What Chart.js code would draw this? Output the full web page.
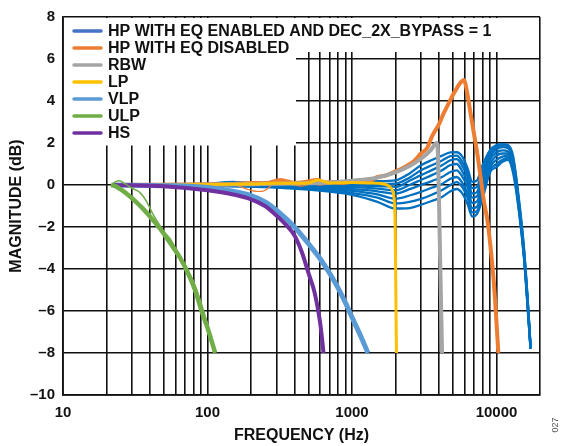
<!DOCTYPE html>
<html>
<head>
<meta charset="utf-8">
<script src="https://cdn.jsdelivr.net/npm/chart.js@4/dist/chart.umd.min.js"></script>
<style>
html,body{margin:0;padding:0;background:#fff;}
#wrap{width:569px;height:446px;position:relative;}
</style>
</head>
<body>
<div id="wrap"><canvas id="c" width="569" height="446"></canvas></div>
<script>
// ---- axis ticks ----
const xTickValues = [10,20,30,40,50,60,70,80,90,100,200,300,400,500,600,700,800,900,1000,2000,3000,4000,5000,6000,7000,8000,9000,10000,20000];
const xTickLabels = [10,100,1000,10000];
const yTickValues = [-10,-8,-6,-4,-2,0,2,4,6,8];

// ---- series names ----
const seriesNames = ['HP WITH EQ ENABLED AND DEC_2X_BYPASS = 1','HP WITH EQ DISABLED','RBW','LP','VLP','ULP','HS'];

// ---- HP with EQ enabled (bundle of curves) ----
const hpEqFreq = [22,60,100,150,200,300,500,700,1000,1500,2000,2500,3000,3600,4200,4800,5300,5800,6300,6800,7300,8000,9000,10000,11000,12000,13000,14200,15500,16400,17200];
const hpEq1 = [0,0.02,0.05,0.15,0.1,0.12,0.1,0.12,0.14,0.18,0.22,0.55,0.94,1.2,1.4,1.55,1.56,1.35,0.8,0.15,0.2,0.94,1.65,1.9,1.95,1.9,1.4,-0.5,-3.0,-5.3,-7.6];
const hpEq2 = [0,0.01,0.03,0.1,0.08,0.05,0.05,0.05,0.05,0.05,0.06,0.35,0.7,0.95,1.17,1.38,1.4,1.1,0.6,-0.15,-0.1,0.7,1.5,1.8,1.9,1.85,1.3,-0.6,-3.1,-5.4,-7.7];
const hpEq3 = [0,0,0.02,0.05,0.05,0,0,-0.02,-0.03,-0.05,-0.09,0.2,0.47,0.72,0.94,1.18,1.23,0.9,0.4,-0.4,-0.35,0.47,1.35,1.7,1.8,1.75,1.2,-0.7,-3.2,-5.5,-7.7];
const hpEq4 = [0,0,0,0.02,0,-0.03,-0.05,-0.08,-0.1,-0.17,-0.25,0,0.24,0.48,0.7,0.95,1.0,0.65,0.15,-0.6,-0.55,0.24,1.2,1.55,1.65,1.6,1.1,-0.8,-3.3,-5.5,-7.7];
const hpEq5 = [0,0,-0.01,0,-0.02,-0.05,-0.1,-0.14,-0.2,-0.3,-0.41,-0.2,0,0.2,0.38,0.62,0.7,0.4,-0.1,-0.85,-0.8,0,1.0,1.4,1.5,1.5,1.0,-0.8,-3.3,-5.6,-7.8];
const hpEq6 = [0,0,-0.02,-0.03,-0.05,-0.08,-0.14,-0.2,-0.28,-0.45,-0.65,-0.5,-0.33,-0.12,0.05,0.3,0.38,0.1,-0.4,-1.1,-1.05,-0.24,0.85,1.2,1.35,1.4,0.9,-0.9,-3.4,-5.6,-7.8];
const hpEq7 = [0,-0.01,-0.03,-0.05,-0.07,-0.1,-0.18,-0.26,-0.38,-0.6,-0.88,-0.8,-0.66,-0.45,-0.24,0,0.14,-0.1,-0.6,-1.3,-1.25,-0.47,0.7,1.0,1.2,1.3,0.8,-1.0,-3.4,-5.7,-7.8];
const hpEq8 = [0,-0.01,-0.03,-0.06,-0.08,-0.12,-0.22,-0.32,-0.47,-0.8,-1.12,-1.1,-0.94,-0.75,-0.57,-0.3,-0.19,-0.4,-0.9,-1.5,-1.4,-0.66,0.6,0.85,1.1,1.2,0.6,-1.1,-3.5,-5.8,-7.8];

// ---- HP with EQ disabled ----
const hpFreq = [22,40,70,100,150,200,250,320,400,480,575,650,750,850,1000,1100,1300,1500,1700,2000,2300,2650,3000,3300,3600,4000,4300,4600,5000,5200,5600,5950,6300,6600,7000,7400,8200,8700,9200,9600,10300];
const hpVals = [0,0.01,0.02,0.03,0.05,0.1,0.08,0.24,0.1,0.15,0.24,0.12,0.14,0.1,0.15,0.22,0.2,0.38,0.45,0.65,0.85,1.1,1.5,1.75,2.35,2.9,3.4,3.8,4.3,4.5,4.85,5.0,4.3,3.45,2.4,1.4,-0.8,-1.8,-3.3,-4.7,-8.0];
const hpFreqB = [150,220,240,300,380,450,520,600,700,800,1000,1200];
const hpValsB = [0.05,-0.3,-0.3,0.1,0.02,-0.05,0.05,0,0.05,0.12,0.08,0.2];

// ---- RBW ----
const rbwFreq = [22,100,200,400,700,1000,1500,2000,2500,3000,3500,3850,3930,3980,4020,4100,4200];
const rbwVals = [0,0.01,0.03,0.07,0.12,0.2,0.35,0.6,0.9,1.25,1.65,2.0,1.5,0,-1.5,-4.5,-8.0];

// ---- LP ----
const lpFreq = [22,100,200,300,500,580,700,1000,1300,1650,1800,1900,1960,1990,2010,2030];
const lpVals = [0,0.02,0.05,0.08,0.1,0.24,0.1,0.12,0.1,0.05,-0.05,-0.25,-0.7,-2.0,-5.0,-8.0];

// ---- VLP ----
const vlpFreq = [22,50,100,150,200,250,300,400,500,600,700,800,900,1000,1150,1290];
const vlpVals = [0,-0.03,-0.12,-0.3,-0.5,-0.8,-1.2,-2.0,-2.8,-3.5,-4.2,-4.9,-5.6,-6.3,-7.2,-8.0];

// ---- ULP (bundle) ----
const ulpFreq = [21.5,23,25,28,32,36,40,47,55,65,75,82,91,100,113];
const ulpVals = [0,-0.05,-0.2,-0.45,-0.8,-1.15,-1.5,-2.08,-2.75,-3.5,-4.35,-5.0,-6.0,-6.8,-8.0];
const ulpFreqB = [21.5,23,24.5,27,30,34,38,42,47,52];
const ulpValsB = [0,0.15,0.2,0.05,-0.15,-0.35,-0.8,-1.4,-1.95,-2.5];
const ulpFreqC = [21.5,26,30,35,45,55,60,70,80,95,110];
const ulpValsC = [0,-0.35,-0.6,-1.0,-1.95,-2.55,-3.0,-3.8,-4.6,-6.1,-7.8];

// ---- HS ----
const hsFreq = [22,50,100,150,200,250,300,350,400,450,500,550,600,620,635];
const hsVals = [0,-0.06,-0.25,-0.45,-0.68,-1.0,-1.45,-1.9,-2.4,-3.2,-4.2,-5.1,-6.5,-7.3,-8.0];

// ---- styles ----
const C = {blue:'#0070C0', blueLeg:'#4472C4', orange:'#ED7D31', gray:'#A5A5A5', yellow:'#FFC000', lblue:'#5B9BD5', green:'#70AD47', purple:'#7030A0'};
const legendColors = [C.blueLeg, C.orange, C.gray, C.yellow, C.lblue, C.green, C.purple];

function pts(fs, vs){ return fs.map((f,i)=>({x:f, y:vs[i]})); }
function ds(fs, vs, color, width, order, label){
  return {label: label||'', data: pts(fs, vs), borderColor: color, backgroundColor: color,
    borderWidth: width, pointRadius: 0, fill: false, cubicInterpolationMode: 'monotone', order: order};
}

const datasets = [
  ...[hpEq1,hpEq2,hpEq3,hpEq4,hpEq5,hpEq6,hpEq7,hpEq8].map(v => ds(hpEqFreq, v, C.blue, 2.3, 9, seriesNames[0])),
  ds(hpFreq, hpVals, C.orange, 4, 8, seriesNames[1]),
  ds(hpFreqB, hpValsB, C.orange, 1.3, 8, seriesNames[1]),
  ds(rbwFreq, rbwVals, C.gray, 4, 7, seriesNames[2]),
  ds(lpFreq, lpVals, C.yellow, 3, 6, seriesNames[3]),
  ds(vlpFreq, vlpVals, C.lblue, 5, 5, seriesNames[4]),
  ds(hsFreq, hsVals, C.purple, 4, 4, seriesNames[6]),
  ds(ulpFreq, ulpVals, C.green, 4.5, 2, seriesNames[5]),
  ds(ulpFreqB, ulpValsB, C.green, 1.5, 1, seriesNames[5]),
  ds(ulpFreqC, ulpValsC, C.green, 1.5, 1, seriesNames[5])
];

const FONT = "'Liberation Sans', Arial, sans-serif";

const overlay = {
  id: 'overlay',
  beforeDatasetsDraw(chart){
    const ctx = chart.ctx, a = chart.chartArea;
    ctx.save();
    ctx.fillStyle = '#fff';
    ctx.fillRect(a.left + 1, a.top + 1, 296 - a.left - 1, 145.5 - a.top - 1);
    ctx.fillRect(a.left + 1, a.top + 1, a.right - a.left - 2, 52 - a.top - 1);
    ctx.restore();
  },
  afterDraw(chart){
    const ctx = chart.ctx;
    ctx.save();
    ctx.font = 'bold 16px ' + FONT;
    ctx.textBaseline = 'middle';
    ctx.textAlign = 'left';
    seriesNames.forEach((n, i) => {
      const y = 31 + i * 17;
      ctx.strokeStyle = legendColors[i];
      ctx.lineWidth = 3.5;
      ctx.lineCap = 'round';
      ctx.beginPath(); ctx.moveTo(74, y); ctx.lineTo(101, y); ctx.stroke();
      ctx.fillStyle = '#111';
      ctx.fillText(n, 108, y + 0.5);
    });
    // figure number
    ctx.translate(556, 425);
    ctx.rotate(-Math.PI / 2);
    ctx.font = '9px ' + FONT;
    ctx.fillStyle = '#555';
    ctx.textAlign = 'center';
    ctx.fillText('027', 0, 0);
    ctx.restore();
  }
};

new Chart(document.getElementById('c'), {
  type: 'line',
  data: { datasets },
  plugins: [overlay],
  options: {
    responsive: false,
    animation: false,
    devicePixelRatio: 1,
    layout: { padding: { top: 14, right: 29, left: 0, bottom: 0 } },
    plugins: { legend: { display: false }, tooltip: { enabled: false } },
    scales: {
      x: {
        type: 'logarithmic', min: 10, max: 20000,
        afterBuildTicks: s => { s.ticks = xTickValues.map(v => ({ value: v })); },
        afterFit: s => { s.height = 51; },
        ticks: {
          autoSkip: false, maxRotation: 0, padding: 9, color: '#111',
          font: { family: FONT, size: 15, weight: 'bold' },
          callback: v => xTickLabels.includes(v) ? String(v) : ''
        },
        grid: { color: '#111', lineWidth: 1.6, drawTicks: false },
        border: { color: '#111', width: 1.8 },
        title: { display: true, text: 'FREQUENCY (Hz)', color: '#111',
          font: { family: FONT, size: 16, weight: 'bold' }, padding: { top: 0, bottom: 1 } }
      },
      y: {
        type: 'linear', min: -10, max: 8,
        afterBuildTicks: s => { s.ticks = yTickValues.map(v => ({ value: v })); },
        afterFit: s => { s.width = 63; },
        ticks: {
          padding: 8, color: '#111',
          font: { family: FONT, size: 15, weight: 'bold' },
          callback: v => v < 0 ? '\u2013' + Math.abs(v) : String(v)
        },
        grid: { color: '#111', lineWidth: 1.6, drawTicks: false },
        border: { color: '#111', width: 1.8 },
        title: { display: true, text: 'MAGNITUDE (dB)', color: '#111',
          font: { family: FONT, size: 16, weight: 'bold' }, padding: { top: 7, bottom: 0 } }
      }
    }
  }
});
</script>
</body>
</html>
